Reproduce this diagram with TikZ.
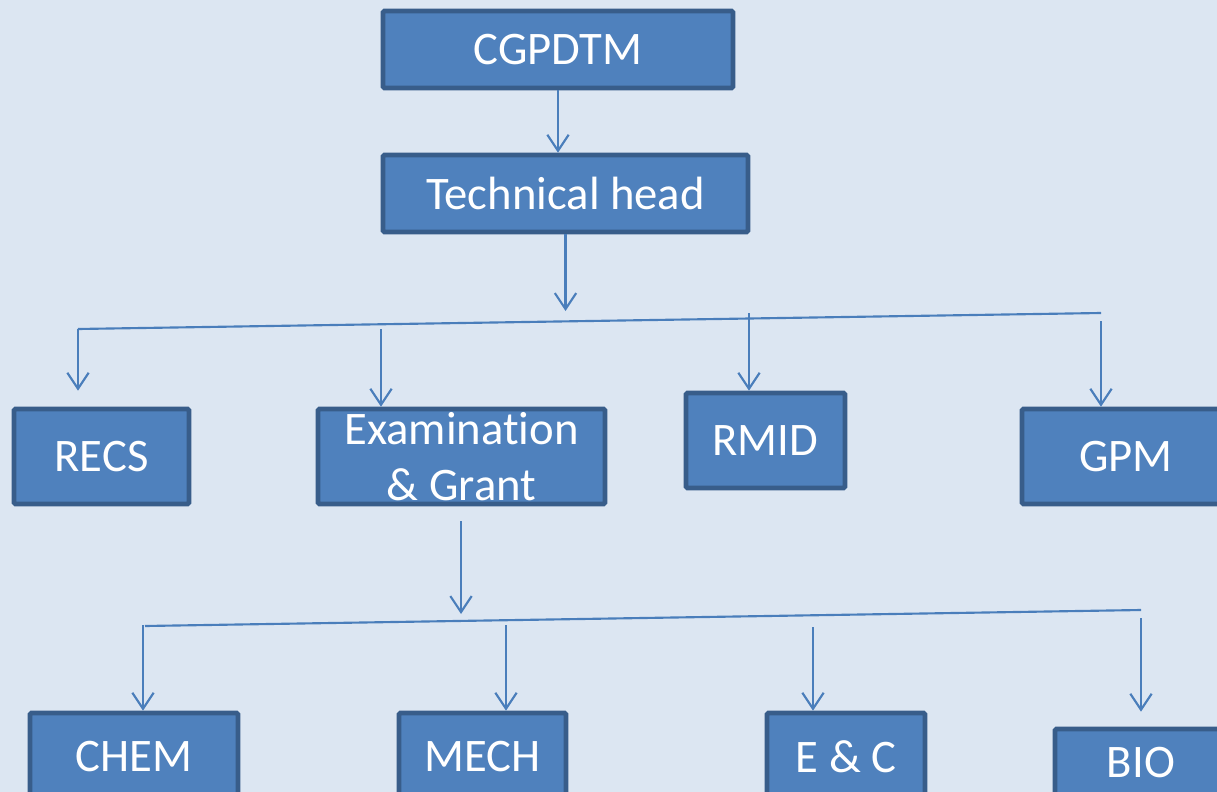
\documentclass[tikz,border=0pt]{standalone}
\usepackage{fontspec}
\setmainfont{Carlito}[Ligatures=NoCommon]
\usetikzlibrary{arrows.meta}
\definecolor{pagebg}{HTML}{DCE6F2}
\definecolor{boxfill}{HTML}{4F81BD}
\definecolor{boxedge}{HTML}{385D8A}
\definecolor{wireblue}{HTML}{4A7EBB}

\begin{document}
\begin{tikzpicture}[x=0.75pt,y=0.75pt,yscale=-1,xscale=1,
  orgbox/.style={draw=boxedge,fill=boxfill,line width=3.5pt,rounded corners=1pt,text=white,inner sep=0pt,align=center,font=\fontsize{35}{42}\selectfont},
  wire/.style={draw=wireblue,line width=1.6pt},
  link/.style={wire,-{Straight Barb[length=12pt,width=16pt]}}]
%set diagram left start at 0, and has height of 792
\useasboundingbox (0,0) rectangle (1217,792);
\fill[pagebg] (0,0) rectangle (1217,792);
\clip (0,0) rectangle (1217,792);

% Text Node
\node[orgbox,minimum width=262.5pt,minimum height=57.75pt] (cgpdtm) at (558,49.5) {CGPDTM};
% Text Node
\node[orgbox,minimum width=273.75pt,minimum height=57.75pt] (techhead) at (565.5,193.5) {Technical head};
% Text Node
\node[orgbox,minimum width=131.25pt,minimum height=71.25pt] (recs) at (101.5,456.5) {RECS};
% Text Node
\node[orgbox,minimum width=215.25pt,minimum height=71.25pt] (exam) at (461.5,456.5) {Examination\\\& Grant};
% Text Node
\node[orgbox,minimum width=119.25pt,minimum height=71.25pt] (rmid) at (765.5,440.5) {RMID};
% Text Node
\node[orgbox,minimum width=156pt,minimum height=71.25pt] (gpm) at (1126,456.5) {GPM};
% Text Node
\node[orgbox,minimum width=156pt,minimum height=66pt] (chem) at (134,757) {CHEM};
% Text Node
\node[orgbox,minimum width=125.25pt,minimum height=66pt] (mech) at (482.5,757) {MECH};
% Text Node
\node[orgbox,minimum width=118.5pt,minimum height=66pt] (ec) at (846,757) {E \& C};
% Text Node
\node[orgbox,minimum width=129pt,minimum height=51pt] (bio) at (1141,763) {BIO};

% Straight Lines
\draw[link] (cgpdtm.south) -- (cgpdtm.south |- techhead.north);
\coordinate (splitA) at (566,311);
\draw[link] (techhead.south) -- (techhead.south |- splitA);

% Straight Lines
\coordinate (busAleft) at (78,329);
\coordinate (busAright) at (1101,313);
\draw[wire] (busAleft) -- (busAright);
\coordinate (dropExam) at (381,329);
\coordinate (dropRmid) at (749,313);
\coordinate (dropGpm) at (1101,321);
\draw[link] (busAleft) -- ([yshift=-12pt]recs.north -| busAleft);
\draw[link] (dropExam) -- (dropExam |- exam.north);
\draw[link] (dropRmid) -- (dropRmid |- rmid.north);
\draw[link] (dropGpm) -- (dropGpm |- gpm.north);

% Straight Lines
\coordinate (splitB) at (461,614);
\draw[link] ([yshift=11.25pt]exam.south -| splitB) -- (splitB);
\coordinate (busBleft) at (145,626);
\coordinate (busBright) at (1141,610);
\draw[wire] (busBleft) -- (busBright);
\coordinate (dropChem) at (143,625);
\coordinate (dropMech) at (506,625);
\coordinate (dropEc) at (813,627);
\coordinate (dropBio) at (1141,618);
\draw[link] (dropChem) -- (dropChem |- chem.north);
\draw[link] (dropMech) -- (dropMech |- mech.north);
\draw[link] (dropEc) -- (dropEc |- ec.north);
\draw[link] (dropBio) -- ([yshift=-11.25pt]bio.north -| dropBio);

\end{tikzpicture}
\end{document}
